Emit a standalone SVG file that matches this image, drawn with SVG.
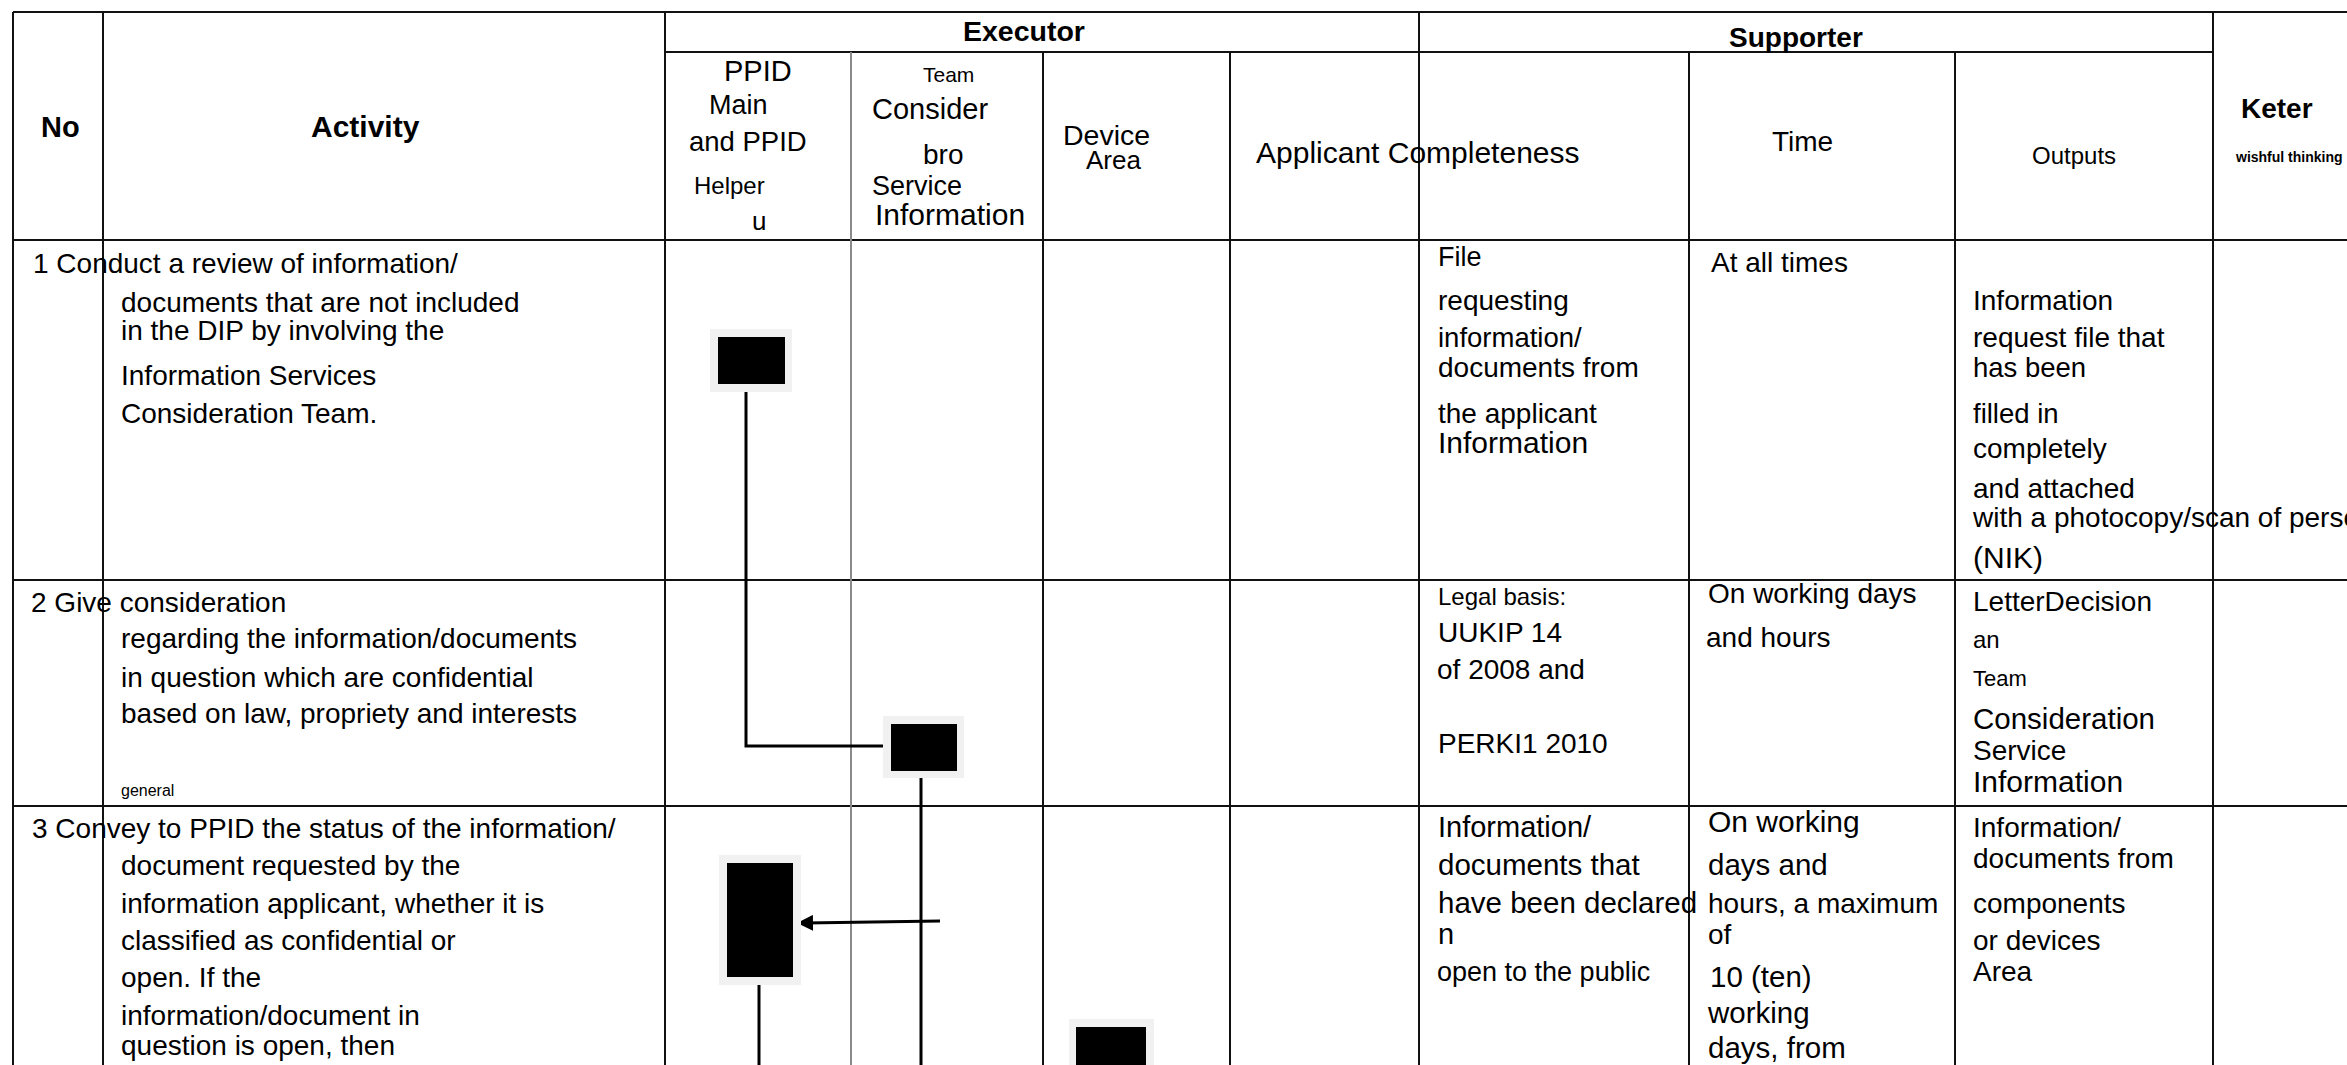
<svg xmlns="http://www.w3.org/2000/svg" width="2347" height="1065" viewBox="0 0 2347 1065">
<defs>
<style>
text{font-family:"Liberation Sans",Arial,sans-serif;fill:#000;font-size:28px}
.b{font-weight:bold}
.grid line{stroke:#111;stroke-width:2}
.grid line.gray{stroke:#8a8a8a}
.halo{fill:#f1f1f1}
.box{fill:#000}
.conn{stroke:#000;stroke-width:3;fill:none}
</style>
<marker id="arr" viewBox="0 0 16 16" refX="8" refY="8" markerWidth="16" markerHeight="16" markerUnits="userSpaceOnUse" orient="auto">
<path d="M0,0 L16,8 L0,16 z" fill="#000"/>
</marker>
</defs>
<rect width="2347" height="1065" fill="#fff"/>
<g id="grid" class="grid">
<line x1="13" y1="12" x2="2347" y2="12"/>
<line x1="665" y1="52" x2="2213" y2="52"/>
<line x1="13" y1="240" x2="2347" y2="240"/>
<line x1="13" y1="580" x2="2347" y2="580"/>
<line x1="13" y1="806" x2="2347" y2="806"/>
<line x1="13" y1="12" x2="13" y2="1065"/>
<line x1="103" y1="12" x2="103" y2="1065"/>
<line x1="665" y1="12" x2="665" y2="1065"/>
<line class="gray" x1="851" y1="52" x2="851" y2="1065"/>
<line x1="1043" y1="52" x2="1043" y2="1065"/>
<line x1="1230" y1="52" x2="1230" y2="1065"/>
<line x1="1419" y1="12" x2="1419" y2="1065"/>
<line x1="1689" y1="52" x2="1689" y2="1065"/>
<line x1="1955" y1="52" x2="1955" y2="1065"/>
<line x1="2213" y1="12" x2="2213" y2="1065"/>
</g>
<g id="header">
<text class="b" x="41" y="137" style="font-size:29px">No</text>
<text class="b" x="311" y="137" style="font-size:30px">Activity</text>
<text class="b" x="963" y="41" style="font-size:28.5px">Executor</text>
<text class="b" x="1729" y="47">Supporter</text>
<text x="724" y="81" style="font-size:29px">PPID</text>
<text x="709" y="114" style="font-size:27px">Main</text>
<text x="689" y="151" style="font-size:27.5px">and PPID</text>
<text x="694" y="194" style="font-size:24px">Helper</text>
<text x="752" y="230" style="font-size:26px">u</text>
<text x="923" y="82" style="font-size:21px">Team</text>
<text x="872" y="119" style="font-size:29px">Consider</text>
<text x="923" y="164">bro</text>
<text x="872" y="195" style="font-size:27px">Service</text>
<text x="875" y="225" style="font-size:30px">Information</text>
<text x="1063" y="145" style="font-size:28.5px">Device</text>
<text x="1086" y="169" style="font-size:26px">Area</text>
<text x="1256" y="163" style="font-size:30px">Applicant Completeness</text>
<text x="1772" y="151">Time</text>
<text x="2032" y="164" style="font-size:24px">Outputs</text>
<text class="b" x="2241" y="118">Keter</text>
<text class="b" x="2236" y="162" style="font-size:14px">wishful thinking</text>
</g>
<g id="row1">
<text x="33" y="273">1 Conduct a review of information/</text>
<text x="121" y="312">documents that are not included</text>
<text x="121" y="340">in the DIP by involving the</text>
<text x="121" y="385">Information Services</text>
<text x="121" y="423">Consideration Team.</text>
<text x="1438" y="266" style="font-size:27px">File</text>
<text x="1438" y="310">requesting</text>
<text x="1438" y="347" style="font-size:27.5px">information/</text>
<text x="1438" y="377">documents from</text>
<text x="1438" y="423">the applicant</text>
<text x="1438" y="453" style="font-size:30px">Information</text>
<text x="1711" y="272">At all times</text>
<text x="1973" y="310">Information</text>
<text x="1973" y="347">request file that</text>
<text x="1973" y="377" style="font-size:27.5px">has been</text>
<text x="1973" y="423" style="font-size:27.5px">filled in</text>
<text x="1973" y="458">completely</text>
<text x="1973" y="498">and attached</text>
<text x="1973" y="527">with a photocopy/scan of perso</text>
<text x="1973" y="568" style="font-size:30px">(NIK)</text>
</g>
<g id="row2">
<text x="31" y="612">2 Give consideration</text>
<text x="121" y="648">regarding the information/documents</text>
<text x="121" y="687">in question which are confidential</text>
<text x="121" y="723">based on law, propriety and interests</text>
<text x="121" y="796" style="font-size:16px">general</text>
<text x="1438" y="605" style="font-size:24px">Legal basis:</text>
<text x="1438" y="642">UUKIP 14</text>
<text x="1437" y="679">of 2008 and</text>
<text x="1438" y="753">PERKI1 2010</text>
<text x="1708" y="603">On working days</text>
<text x="1706" y="647">and hours</text>
<text x="1973" y="611">LetterDecision</text>
<text x="1973" y="648" style="font-size:24px">an</text>
<text x="1973" y="686" style="font-size:22px">Team</text>
<text x="1973" y="729" style="font-size:29.5px">Consideration</text>
<text x="1973" y="760">Service</text>
<text x="1973" y="792" style="font-size:30px">Information</text>
</g>
<g id="row3">
<text x="32" y="838">3 Convey to PPID the status of the information/</text>
<text x="121" y="875">document requested by the</text>
<text x="121" y="913">information applicant, whether it is</text>
<text x="121" y="950">classified as confidential or</text>
<text x="121" y="987">open. If the</text>
<text x="121" y="1025">information/document in</text>
<text x="121" y="1055">question is open, then</text>
<text x="1438" y="837" style="font-size:29px">Information/</text>
<text x="1438" y="875" style="font-size:29.5px">documents that</text>
<text x="1438" y="913" style="font-size:29.5px">have been declared</text>
<text x="1438" y="944" style="font-size:29px">n</text>
<text x="1437" y="981" style="font-size:27px">open to the public</text>
<text x="1708" y="832" style="font-size:30px">On working</text>
<text x="1708" y="875" style="font-size:29.5px">days and</text>
<text x="1708" y="913">hours, a maximum</text>
<text x="1708" y="944">of</text>
<text x="1710" y="987" style="font-size:29.5px">10 (ten)</text>
<text x="1708" y="1023" style="font-size:29.5px">working</text>
<text x="1708" y="1058" style="font-size:29.5px">days, from</text>
<text x="1973" y="837">Information/</text>
<text x="1973" y="868">documents from</text>
<text x="1973" y="913">components</text>
<text x="1973" y="950">or devices</text>
<text x="1973" y="981">Area</text>
</g>
<g id="connectors">
<polyline class="conn" points="746,392 746,746 891,746"/>
<line class="conn" x1="921" y1="776" x2="921" y2="1065"/>
<line class="conn" x1="940" y1="921" x2="805" y2="923" marker-end="url(#arr)"/>
<line class="conn" x1="759" y1="981" x2="759" y2="1065"/>
</g>
<g id="node1">
<rect class="halo" x="710" y="329" width="82" height="63"/>
<rect class="box" x="718" y="337" width="67" height="47"/>
</g>
<g id="node2">
<rect class="halo" x="883" y="716" width="81" height="62"/>
<rect class="box" x="891" y="724" width="66" height="47"/>
</g>
<g id="node3">
<rect class="halo" x="719" y="855" width="82" height="130"/>
<rect class="box" x="727" y="863" width="66" height="114"/>
</g>
<g id="node4">
<rect class="halo" x="1069" y="1019" width="85" height="60"/>
<rect class="box" x="1076" y="1027" width="70" height="52"/>
</g>
</svg>
